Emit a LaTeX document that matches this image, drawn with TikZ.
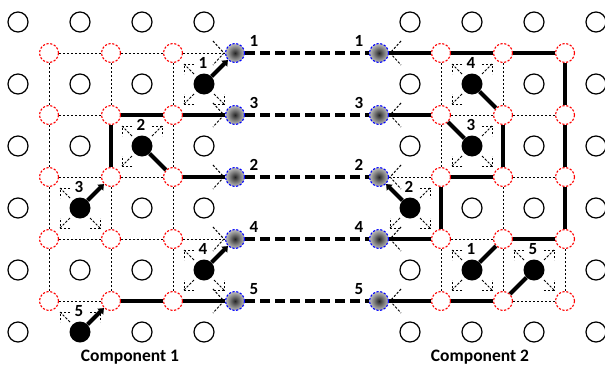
\documentclass[tikz,border=0pt]{standalone}
\usepackage{fontspec}
\setsansfont{Carlito}
\usetikzlibrary{calc,arrows.meta}
\pgfdeclareradialshading{bluegrad}{\pgfpoint{0bp}{0bp}}{color(0bp)=(black!85); color(12bp)=(black!55); color(28bp)=(black!18); color(50bp)=(black!6)}
\newcommand{\pbracket}[3]{%
  \draw[brk] ($(#1)+(#2*10,#3*10)$) -- ($(#1)+(#2*20,#3*20)$);
  \draw[brk] ($(#1)+(#2*10,#3*20)$) -- ($(#1)+(#2*20,#3*20)$) -- ($(#1)+(#2*20,#3*10)$);}
\newcommand{\vheadL}[1]{\draw[brk] ($(#1.west)+(-12,-12)$) -- ($(#1.west)+(-1,0)$) -- ($(#1.west)+(-12,12)$);}
\newcommand{\vheadR}[1]{\draw[brk] ($(#1.east)+(12,-12)$) -- ($(#1.east)+(1,0)$) -- ($(#1.east)+(12,12)$);}
\begin{document}
\begin{tikzpicture}[x=1pt,y=-1pt,
  whitenode/.style={circle,draw=black,line width=1.2pt,fill=white,minimum size=20pt,inner sep=0pt},
  rednode/.style={circle,draw=red,line width=1.1pt,dash pattern=on 2.2pt off 1.6pt,fill=white,minimum size=19pt,inner sep=0pt},
  bluenode/.style={circle,draw=blue,line width=1.1pt,dash pattern=on 2.2pt off 1.6pt,shading=bluegrad,minimum size=19pt,inner sep=0pt},
  partnode/.style={circle,fill=black,minimum size=21pt,inner sep=0pt},
  gridd/.style={line width=0.9pt,dash pattern=on 2.4pt off 1.6pt},
  thk/.style={line width=4pt},
  thkarrow/.style={line width=4pt,-{Triangle[length=5pt,width=8pt]}},
  longd/.style={line width=4pt,dash pattern=on 10pt off 5pt},
  brk/.style={line width=0.95pt,dash pattern=on 2.4pt off 1.6pt},
  num/.style={font=\sffamily\bfseries\fontsize{17}{17}\selectfont,inner sep=0pt},
  comp/.style={font=\sffamily\bfseries\fontsize{17.5}{17.5}\selectfont,inner sep=0pt}]
\useasboundingbox (0,0) rectangle (605,367);
% ---------- white lattice circles ----------
\foreach \j/\cols in {0/{0,1,2,3},1/{0,1,2},2/{0,1,3},3/{0,2,3},4/{0,1,2},5/{0,2,3}}
  \foreach \i in \cols \node[whitenode] (Lw\i\j) at ({18+62*\i},{22+62*\j}) {};
\foreach \j/\cols in {0/{0,1,2,3},1/{0,2,3},2/{0,2,3},3/{1,2,3},4/{0,3},5/{0,1,2,3}}
  \foreach \i in \cols \node[whitenode] (Rw\i\j) at ({410+62*\i},{22+62*\j}) {};
% ---------- red and blue nodes ----------
\foreach \i in {0,1,2}
  \foreach \j in {0,...,4} {
    \node[rednode] (Lr\i\j) at ({49+62*\i},{53+62*\j}) {};
    \node[rednode] (Rr\i\j) at ({441+62*\i},{53+62*\j}) {};
  }
\foreach \j in {0,...,4} {
  \node[bluenode] (Lb\j) at (235,{53+62*\j}) {};
  \node[bluenode] (Rb\j) at (379,{53+62*\j}) {};
}
% ---------- particles ----------
\node[partnode] (Lp1) at (204,84) {};
\node[partnode] (Lp2) at (142,146) {};
\node[partnode] (Lp3) at (80,208) {};
\node[partnode] (Lp4) at (204,270) {};
\node[partnode] (Lp5) at (80,332) {};
\node[partnode] (Rp4) at (472,84) {};
\node[partnode] (Rp3) at (472,146) {};
\node[partnode] (Rp2) at (410,208) {};
\node[partnode] (Rp1) at (472,270) {};
\node[partnode] (Rp5) at (534,270) {};
% particle labels
\foreach \n/\t in {Lp1/1,Lp2/2,Lp3/3,Lp4/4,Lp5/5,Rp1/1,Rp2/2,Rp3/3,Rp4/4,Rp5/5}
  \node[num] (\n t) at ($(\n)+(-1,-21)$) {\t};
% ---------- left grid lines ----------
\foreach \j in {0,...,4} \draw[gridd] (Lr0\j) -- (Lr1\j);
\foreach \j in {0,2,3} \draw[gridd] (Lr1\j) -- (Lr2\j);
\foreach \j in {1,4} \draw[thk] (Lr1\j) -- (Lr2\j);
\foreach \j in {0,3} \draw[gridd] (Lr2\j) -- (Lb\j);
\foreach \j in {1,2,4} \draw[thk] (Lr2\j) -- (Lb\j);
\foreach \a/\b in {0/1,1/2,2/3,3/4} {
  \draw[gridd] (Lr0\a) -- (Lr0\b);
  \draw[gridd] (Lr2\a) -- (Lr2\b);
}
\foreach \a/\b in {0/1,2/3,3/4} \draw[gridd] (Lr1\a) -- (Lr1\b);
\draw[thk] (Lr11) -- (Lr12);
% ---------- right grid lines ----------
\foreach \j/\s in {0/thk,1/thk,2/gridd,3/thk,4/thk} \draw[\s] (Rr0\j) -- (Rb\j);
\foreach \j/\s in {0/thk,1/gridd,2/thk,3/gridd,4/thk} \draw[\s] (Rr0\j) -- (Rr1\j);
\foreach \j/\s in {0/thk,1/gridd,2/gridd,3/thk,4/gridd} \draw[\s] (Rr1\j) -- (Rr2\j);
\foreach \a/\b/\s in {0/1/gridd,1/2/gridd,2/3/thk,3/4/gridd} \draw[\s] (Rr0\a) -- (Rr0\b);
\foreach \a/\b/\s in {0/1/gridd,1/2/thk,2/3/gridd,3/4/gridd} \draw[\s] (Rr1\a) -- (Rr1\b);
\foreach \a/\b/\s in {0/1/thk,1/2/thk,2/3/thk,3/4/gridd} \draw[\s] (Rr2\a) -- (Rr2\b);
% ---------- long links between components ----------
\foreach \j in {0,...,4} {
  \draw[longd] (Lb\j) -- (Rb\j);
  \vheadL{Lb\j}
  \vheadR{Rb\j}
}
\foreach \j/\t in {0/1,1/3,2/2,3/4,4/5} {
  \node[num] (Lbt\j) at (254,{41+62*\j}) {\t};
  \node[num] (Rbt\j) at (359,{41+62*\j}) {\t};
}
% ---------- particle moves ----------
\pbracket{Lp1}{-1}{-1}\pbracket{Lp1}{-1}{1}\pbracket{Lp1}{1}{1}
\pbracket{Lp2}{-1}{-1}\pbracket{Lp2}{1}{-1}\pbracket{Lp2}{-1}{1}
\pbracket{Lp3}{-1}{-1}\pbracket{Lp3}{-1}{1}\pbracket{Lp3}{1}{1}
\pbracket{Lp4}{-1}{-1}\pbracket{Lp4}{-1}{1}\pbracket{Lp4}{1}{1}
\pbracket{Lp5}{-1}{-1}\pbracket{Lp5}{1}{-1}
\pbracket{Rp4}{-1}{-1}\pbracket{Rp4}{1}{-1}\pbracket{Rp4}{-1}{1}
\pbracket{Rp3}{1}{-1}\pbracket{Rp3}{-1}{1}\pbracket{Rp3}{1}{1}
\pbracket{Rp2}{1}{-1}\pbracket{Rp2}{-1}{1}\pbracket{Rp2}{1}{1}
\pbracket{Rp1}{-1}{-1}\pbracket{Rp1}{-1}{1}\pbracket{Rp1}{1}{1}
\pbracket{Rp5}{-1}{-1}\pbracket{Rp5}{1}{-1}\pbracket{Rp5}{1}{1}
\draw[thkarrow] (Lp1) -- (Lb0);
\draw[thk] (Lp2) -- (Lr22);
\draw[thkarrow] (Lp3) -- (Lr12);
\draw[thkarrow] (Lp4) -- (Lb3);
\draw[thkarrow] (Lp5) -- (Lr14);
\draw[thk] (Rp4) -- (Rr11);
\draw[thk] (Rp3) -- (Rr01);
\draw[thkarrow] (Rp2) -- (Rb2);
\draw[thk] (Rp1) -- (Rr13);
\draw[thk] (Rp5) -- (Rr14);
% ---------- captions ----------
\node[comp] (c1) at (130,357) {Component 1};
\node[comp] (c2) at (480,357) {Component 2};
\end{tikzpicture}
\end{document}
